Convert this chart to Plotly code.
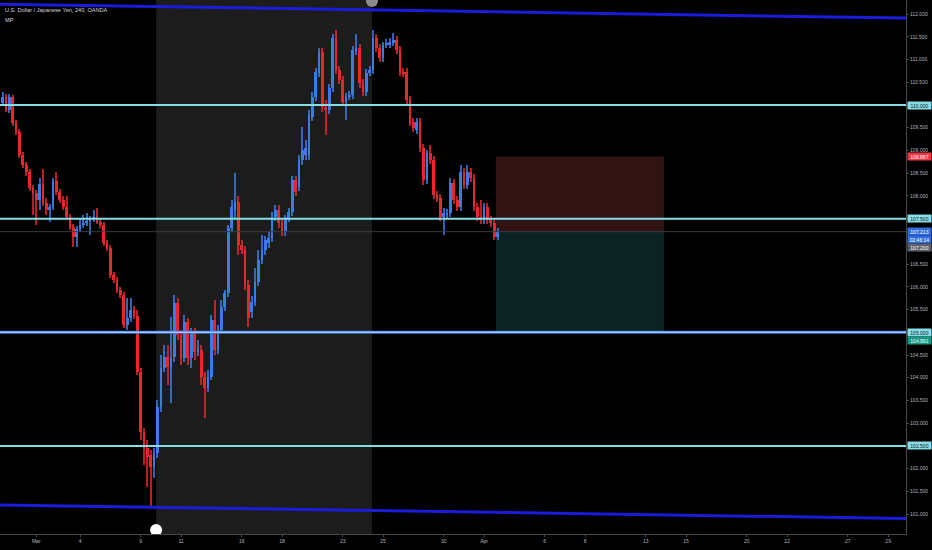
import plotly.graph_objects as go

title = "U.S. Dollar / Japanese Yen, 240, OANDA"
indicator = "MP"

opens = [110.04, 110.18, 109.89, 110.18, 109.60, 109.41, 108.90, 108.68, 108.53, 108.17,
         108.06, 107.91, 108.26, 107.84, 107.69, 107.76, 108.33, 108.09, 107.91, 107.76,
         107.54, 107.32, 107.10, 107.27, 107.36, 107.40, 107.45, 107.49, 107.54, 107.43,
         107.36, 106.96, 106.85, 106.26, 106.15, 105.93, 105.82, 105.16, 105.31, 105.49,
         105.36, 104.13, 102.81, 102.45, 102.30, 102.04, 102.34, 103.36, 104.21, 104.46,
         104.24, 104.46, 105.64, 104.94, 104.43, 105.23, 104.43, 104.98, 104.57, 104.61,
         104.02, 103.77, 104.02, 105.27, 104.61, 105.05, 105.56, 105.86, 107.29, 107.69,
         107.87, 106.92, 106.81, 106.04, 105.45, 105.67, 106.11, 106.59, 106.81, 106.96,
         107.07, 107.54, 107.69, 107.40, 107.21, 107.51, 107.65, 108.35, 108.20, 108.79,
         108.90, 108.90, 109.73, 110.18, 110.70, 111.17, 109.96, 109.89, 110.37, 111.47,
         110.77, 110.55, 110.07, 110.18, 110.22, 111.17, 111.25, 110.48, 110.29, 110.70,
         110.77, 111.47, 111.25, 111.03, 111.32, 111.32, 111.36, 111.43, 111.21, 110.73,
         110.73, 110.11, 109.63, 109.45, 109.63, 109.05, 108.35, 108.94, 108.79, 108.02,
         107.95, 107.54, 107.58, 107.62, 108.28, 107.91, 107.76, 108.53, 108.24, 108.53,
         108.39, 107.76, 107.54, 107.47, 107.76, 107.47, 107.40, 107.10]
highs = [110.29, 110.24, 110.24, 110.22, 109.67, 109.47, 108.97, 108.75, 108.59, 108.24,
         108.13, 108.39, 108.59, 107.95, 107.82, 108.39, 108.53, 108.15, 108.00, 108.00,
         107.60, 107.38, 107.34, 107.51, 107.58, 107.62, 107.56, 107.69, 107.73, 107.49,
         107.43, 107.03, 106.92, 106.33, 106.22, 106.00, 105.89, 105.75, 105.75, 105.58,
         105.49, 104.21, 102.89, 102.63, 102.41, 102.45, 103.51, 104.50, 104.72, 104.72,
         105.34, 105.82, 105.75, 105.05, 105.38, 105.31, 105.09, 105.09, 104.83, 104.72,
         104.13, 104.17, 105.38, 105.71, 105.16, 105.71, 105.93, 107.36, 107.91, 108.50,
         108.00, 107.03, 106.90, 106.15, 105.80, 106.41, 106.81, 107.14, 107.12, 107.21,
         107.65, 107.80, 107.80, 107.51, 107.58, 107.73, 108.44, 108.44, 108.90, 109.52,
         109.23, 109.89, 110.29, 110.81, 111.25, 111.25, 110.11, 110.46, 111.56, 111.65,
         110.86, 110.64, 110.26, 110.31, 111.30, 111.56, 111.34, 110.57, 110.79, 110.86,
         111.65, 111.56, 111.34, 111.39, 111.45, 111.47, 111.58, 111.52, 111.30, 110.81,
         110.81, 110.20, 109.71, 109.71, 109.71, 109.14, 109.01, 109.12, 108.88, 108.11,
         108.04, 107.73, 107.71, 108.39, 108.37, 108.00, 108.68, 108.61, 108.68, 108.61,
         108.48, 107.84, 107.91, 107.84, 107.84, 107.56, 107.49, 107.29]
lows = [109.98, 109.85, 109.82, 109.54, 109.34, 108.83, 108.61, 108.44, 108.11, 107.58,
        107.36, 107.69, 107.78, 107.58, 107.43, 107.69, 108.02, 107.84, 107.69, 107.47,
        107.25, 106.88, 106.88, 107.21, 107.29, 107.34, 107.14, 107.43, 107.38, 107.29,
        106.90, 106.79, 106.19, 106.08, 105.86, 105.75, 105.09, 105.05, 105.23, 105.29,
        104.06, 102.63, 102.08, 101.60, 101.16, 101.79, 102.23, 103.25, 104.13, 103.84,
        103.44, 104.35, 104.83, 104.28, 104.35, 104.28, 104.21, 104.39, 104.48, 103.84,
        103.11, 103.69, 103.95, 104.50, 104.52, 104.96, 105.47, 105.78, 107.21, 107.51,
        106.70, 106.72, 105.93, 105.12, 105.31, 105.58, 106.02, 106.50, 106.70, 106.85,
        106.99, 107.45, 107.29, 107.12, 107.12, 107.43, 107.56, 108.00, 108.11, 108.68,
        108.79, 108.79, 109.65, 110.09, 110.62, 109.85, 109.34, 109.80, 110.29, 110.68,
        110.46, 109.98, 109.67, 110.11, 110.13, 111.10, 110.37, 110.20, 110.20, 110.64,
        110.68, 111.17, 110.95, 110.95, 111.25, 111.25, 111.30, 111.12, 110.64, 110.62,
        110.02, 109.54, 109.41, 109.36, 108.97, 108.24, 108.26, 108.70, 107.93, 107.87,
        107.45, 107.14, 107.49, 107.54, 107.82, 107.67, 107.67, 108.15, 108.15, 108.31,
        107.67, 107.45, 107.38, 107.38, 107.38, 107.32, 107.03, 107.03]
closes = [110.18, 109.89, 110.18, 109.60, 109.41, 108.90, 108.68, 108.53, 108.17, 108.06,
          107.91, 108.26, 107.84, 107.69, 107.76, 108.33, 108.09, 107.91, 107.76, 107.54,
          107.32, 107.10, 107.27, 107.36, 107.40, 107.45, 107.49, 107.54, 107.43, 107.36,
          106.96, 106.85, 106.26, 106.15, 105.93, 105.82, 105.16, 105.31, 105.49, 105.36,
          104.13, 102.81, 102.45, 102.26, 102.04, 102.34, 103.36, 104.21, 104.46, 104.24,
          104.43, 105.64, 104.94, 104.43, 105.23, 104.43, 104.98, 104.57, 104.65, 104.02,
          103.77, 104.02, 105.27, 104.61, 105.05, 105.56, 105.86, 107.29, 107.76, 107.87,
          106.92, 106.81, 106.04, 105.31, 105.67, 106.11, 106.59, 106.81, 107.03, 107.07,
          107.54, 107.69, 107.40, 107.21, 107.51, 107.65, 108.35, 108.09, 108.79, 109.01,
          109.05, 109.78, 110.18, 110.73, 111.17, 109.96, 109.89, 110.37, 111.47, 110.77,
          110.55, 110.07, 110.18, 110.22, 111.21, 111.25, 110.48, 110.29, 110.70, 110.77,
          111.47, 111.25, 111.03, 111.32, 111.36, 111.39, 111.43, 111.21, 110.73, 110.70,
          110.11, 109.63, 109.49, 109.63, 109.05, 108.35, 108.94, 108.79, 108.02, 107.95,
          107.54, 107.62, 107.62, 108.28, 107.91, 107.76, 108.53, 108.24, 108.53, 108.39,
          107.76, 107.54, 107.47, 107.76, 107.47, 107.40, 107.10, 107.213]

# x axis: bar index (4h bars); date labels at the bar where each day starts
tick_pos = [10, 23, 41, 53, 71, 83, 101, 113, 131, 143, 161, 173, 191, 203, 221, 233, 251, 263]
tick_text = ["Mar", "4", "9", "11", "16", "18", "23", "25", "30", "Apr",
             "6", "8", "13", "15", "20", "22", "27", "29"]

levels_cyan = [110.0, 107.5, 102.5]
level_blue = 105.0
last_price = 107.213
stop_price = 108.867
target_price = 104.991
bid_price = 107.200
countdown = "02:46:14"

channel_top_x = [-5, 275]
channel_top_y = [112.224, 111.904]
channel_bot_x = [-5, 275]
channel_bot_y = [101.205, 100.895]

range_start, range_end = 45.6, 109.7
range_start_price, range_end_price = 100.65, 112.29
position_start, position_end = 146.5, 196.4

BLUE = "#3b7be8"
RED = "#e8262c"
CYAN = "#86dde6"
CHAN = "#1b1bdc"
AXC = "#4a4a4a"
TXT = "#b2b5be"
FONT = "Liberation Sans"

n = len(closes)
xs = list(range(n))
cols = [BLUE if c >= o else RED for o, c in zip(opens, closes)]
body_base = [min(o, c) for o, c in zip(opens, closes)]
body_h = [max(abs(c - o), 0.015) for o, c in zip(opens, closes)]
wick_h = [h - l for h, l in zip(highs, lows)]

fig = go.Figure()

fig.add_trace(go.Bar(x=xs, y=wick_h, base=lows, width=0.3,
                     marker=dict(color=cols, line=dict(width=0)), opacity=0.8,
                     showlegend=False, hoverinfo="skip"))
fig.add_trace(go.Bar(x=xs, y=body_h, base=body_base, width=0.8,
                     marker=dict(color=cols, line=dict(width=0)),
                     showlegend=False, hoverinfo="skip"))

# channel lines
fig.add_trace(go.Scatter(x=channel_top_x, y=channel_top_y, mode="lines",
                         line=dict(color=CHAN, width=3), showlegend=False, hoverinfo="skip"))
fig.add_trace(go.Scatter(x=channel_bot_x, y=channel_bot_y, mode="lines",
                         line=dict(color=CHAN, width=3), showlegend=False, hoverinfo="skip"))

# date-range handles
fig.add_trace(go.Scatter(x=[range_start], y=[range_start_price], mode="markers",
                         marker=dict(color="white", size=12), showlegend=False, hoverinfo="skip"))
fig.add_trace(go.Scatter(x=[range_end], y=[range_end_price], mode="markers",
                         marker=dict(color="#8c8c8c", size=12), showlegend=False, hoverinfo="skip"))

shapes = []
# shaded date range
shapes.append(dict(type="rect", xref="x", yref="paper", x0=range_start, x1=range_end,
                   y0=0, y1=1, fillcolor="#1c1c1c", line=dict(width=0), layer="below"))
# position tool
shapes.append(dict(type="rect", xref="x", yref="y", x0=position_start, x1=position_end,
                   y0=last_price, y1=stop_price, fillcolor="#321314", line=dict(width=0), layer="below"))
shapes.append(dict(type="rect", xref="x", yref="y", x0=position_start, x1=position_end,
                   y0=target_price, y1=last_price, fillcolor="#0b2422", line=dict(width=0), layer="below"))
# last price line
shapes.append(dict(type="line", xref="paper", yref="y", x0=0, x1=1, y0=last_price, y1=last_price,
                   line=dict(color="#3a3a48", width=1), layer="above"))
# horizontal levels
for lv in levels_cyan:
    shapes.append(dict(type="line", xref="paper", yref="y", x0=0, x1=1, y0=lv, y1=lv,
                       line=dict(color=CYAN, width=2), layer="above"))
shapes.append(dict(type="line", xref="paper", yref="y", x0=0, x1=1, y0=level_blue, y1=level_blue,
                   line=dict(color="#3f6fe8", width=3), layer="above"))
shapes.append(dict(type="line", xref="paper", yref="y", x0=0, x1=1, y0=level_blue, y1=level_blue,
                   line=dict(color="#9ad0f0", width=1.3), layer="above"))


def tag(y, text, bg, fg, yshift=0):
    return dict(x=1, xref="paper", xanchor="left", xshift=1, y=y, yref="y", yshift=yshift,
                text=text, showarrow=False, bgcolor=bg, font=dict(size=5, color=fg, family=FONT),
                width=23, height=7, borderpad=0, align="center")


annotations = [
    dict(x=0, xref="paper", y=1, yref="paper", xanchor="left", yanchor="top", xshift=3, yshift=-5,
         text=title, showarrow=False, font=dict(size=5.6, color="#d1d4dc", family=FONT)),
    dict(x=0, xref="paper", y=1, yref="paper", xanchor="left", yanchor="top", xshift=3, yshift=-15,
         text=indicator, showarrow=False, font=dict(size=5.6, color="#d1d4dc", family=FONT)),
]
for lv in levels_cyan + [level_blue]:
    annotations.append(tag(lv, f"{lv:.3f}", CYAN, "#131722"))
annotations.append(tag(stop_price, f"{stop_price:.3f}", "#f23645", "white"))
annotations.append(tag(last_price, f"{last_price:.3f}", "#2f6de0", "white"))
annotations.append(tag(last_price, countdown, "#2f6de0", "white", yshift=-8))
annotations.append(tag(last_price, f"{bid_price:.3f}", "#5d606b", "white", yshift=-16))
annotations.append(tag(target_price, f"{target_price:.3f}", "#0e9986", "white", yshift=-8))

fig.update_layout(
    width=932, height=550,
    margin=dict(l=0, r=26, t=0, b=16),
    paper_bgcolor="black", plot_bgcolor="black",
    barmode="overlay", bargap=0,
    shapes=shapes, annotations=annotations,
    font=dict(family=FONT, color=TXT, size=5),
    xaxis=dict(range=[-0.77, 268.3], showgrid=False, zeroline=False, showline=True,
               linecolor=AXC, linewidth=1, ticks="outside", ticklen=2, tickcolor=AXC,
               tickvals=tick_pos, ticktext=tick_text, tickfont=dict(size=5, color=TXT)),
    yaxis=dict(range=[100.562, 112.31], side="right", showgrid=False, zeroline=False,
               showline=True, linecolor=AXC, linewidth=1, ticks="outside", ticklen=2,
               tickcolor=AXC, dtick=0.5, tick0=0, tickformat=".3f",
               tickfont=dict(size=5, color=TXT)),
)

fig.write_html("out.html", config={"displayModeBar": False},
               post_script="document.body.style.margin='0';document.body.style.background='black';")
